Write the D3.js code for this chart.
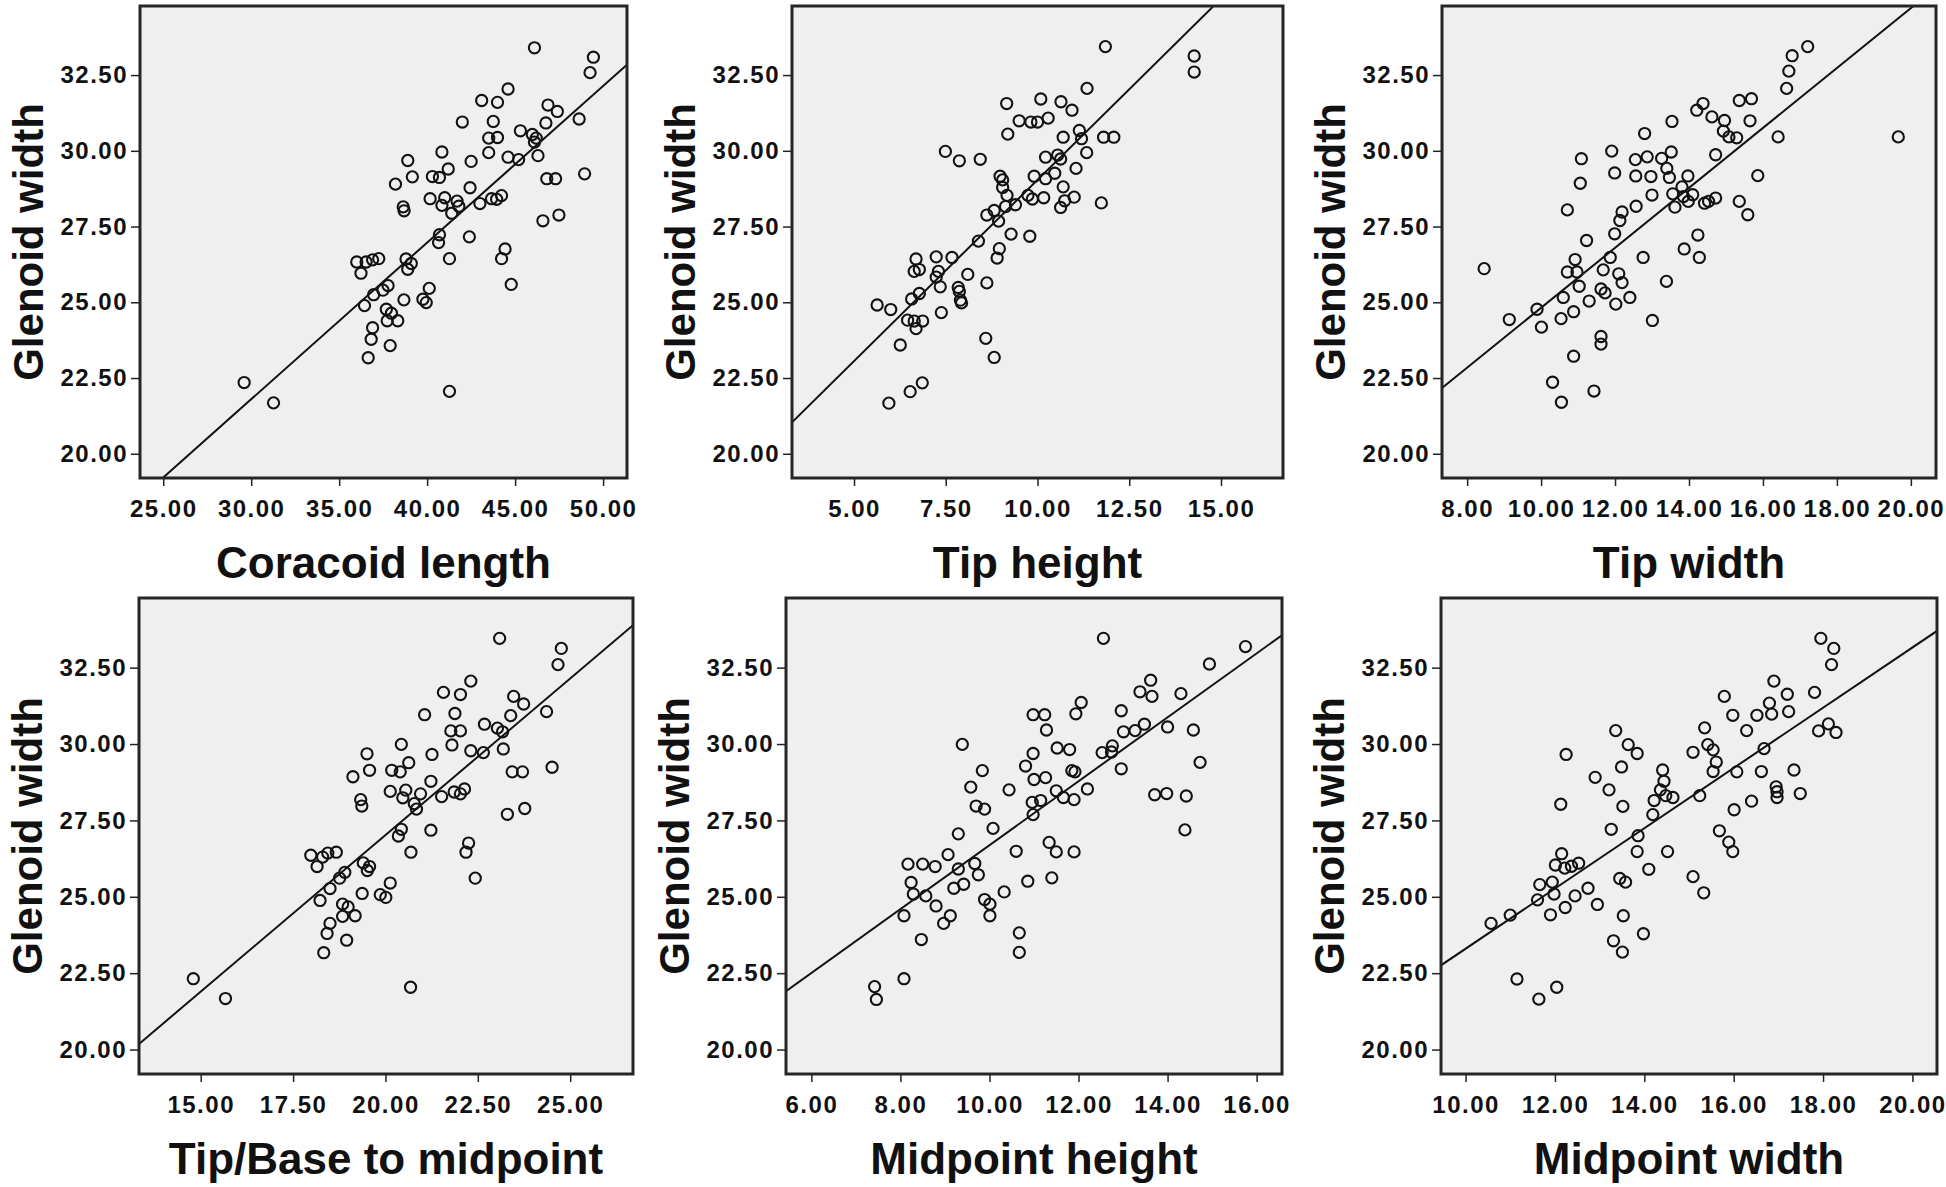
<!DOCTYPE html>
<html><head><meta charset="utf-8">
<script src="https://cdn.jsdelivr.net/npm/d3@7"></script>
<style>
html,body{margin:0;padding:0;background:#fff;}
svg text{font-family:"Liberation Sans",Arial,sans-serif;font-weight:bold;fill:#111;}
</style></head><body>
<svg id="chart" width="1946" height="1187"></svg>
<script>
// ---------- data ----------
const yTitle = "Glenoid width";
const yTickValues = [20, 22.5, 25, 27.5, 30, 32.5];
const yDomain = [19.2, 34.78];
const xTitles = ["Coracoid length", "Tip height", "Tip width", "Tip/Base to midpoint", "Midpoint height", "Midpoint width"];
const xDomains = [[23.68, 51.36], [3.31, 16.69], [7.32, 20.68], [13.33, 26.70], [5.43, 16.57], [9.45, 20.55]];
const xTickValues = [
  [25, 30, 35, 40, 45, 50],
  [5, 7.5, 10, 12.5, 15],
  [8, 10, 12, 14, 16, 18, 20],
  [15, 17.5, 20, 22.5, 25],
  [6, 8, 10, 12, 14, 16],
  [10, 12, 14, 16, 18, 20]
];
const fitIntercepts = [6.29, 17.08, 14.93, 6.52, 16.23, 13.44];
const fitSlopes = [0.517, 1.196, 0.989, 1.025, 1.046, 0.986];

const coracoidLength = [[46.1,33.4],[49.45,33.09],[49.26,32.58],[44.6,32.04],[43.1,31.66],[44.0,31.6],[46.87,31.51],[47.4,31.3],[48.64,31.05],[42.0,30.95],[43.76,30.97],[46.75,30.92],[45.3,30.66],[43.5,30.42],[44.0,30.44],[45.98,30.54],[46.2,30.42],[46.1,30.29],[40.84,29.96],[43.5,29.94],[38.9,29.68],[44.6,29.79],[45.2,29.71],[46.3,29.84],[42.5,29.65],[41.2,29.4],[39.16,29.14],[40.3,29.15],[40.7,29.12],[38.2,28.9],[48.95,29.24],[46.8,29.08],[47.3,29.08],[42.44,28.78],[40.17,28.42],[41.0,28.45],[40.84,28.2],[41.7,28.34],[41.8,28.17],[43.0,28.26],[43.66,28.42],[44.23,28.52],[43.95,28.4],[38.64,28.15],[38.69,28.02],[41.4,27.94],[46.58,27.69],[47.49,27.88],[40.7,27.23],[40.65,26.97],[42.4,27.16],[41.27,26.44],[44.43,26.76],[44.23,26.44],[44.78,25.59],[36.9,26.4],[37.25,26.44],[36.0,26.33],[36.53,26.33],[36.24,25.96],[38.8,26.43],[39.1,26.28],[38.9,26.09],[37.78,25.55],[37.49,25.4],[36.96,25.25],[38.68,25.08],[40.12,25.46],[39.76,25.1],[39.95,24.99],[36.44,24.89],[37.68,24.77],[37.97,24.64],[38.33,24.39],[37.73,24.39],[36.9,24.16],[36.82,23.78],[37.9,23.57],[36.65,23.17],[29.6,22.35],[31.27,21.68],[41.27,22.06]];

const tipHeight = [[11.85,33.44],[14.27,33.13],[14.27,32.6],[11.35,32.06],[9.16,31.56],[10.09,31.71],[10.64,31.62],[10.94,31.34],[9.5,30.99],[9.82,30.95],[10.0,30.95],[10.29,31.08],[9.19,30.55],[10.7,30.45],[11.14,30.67],[11.2,30.4],[11.8,30.45],[12.08,30.45],[7.49,29.98],[7.87,29.67],[8.44,29.72],[10.22,29.79],[10.55,29.86],[10.63,29.73],[11.34,29.94],[11.05,29.42],[8.98,29.16],[9.05,29.04],[9.91,29.16],[10.22,29.08],[10.47,29.26],[9.05,28.79],[10.7,28.81],[9.74,28.53],[9.86,28.41],[10.17,28.45],[11.0,28.47],[9.17,28.53],[9.4,28.22],[9.13,28.16],[10.74,28.35],[10.63,28.13],[11.74,28.28],[8.62,27.88],[8.82,28.03],[8.94,27.68],[9.28,27.25],[9.79,27.18],[8.39,27.02],[8.96,26.77],[8.9,26.46],[6.69,26.43],[7.24,26.5],[7.67,26.48],[6.64,26.02],[6.78,26.08],[7.3,26.02],[7.24,25.83],[8.1,25.92],[8.62,25.64],[7.35,25.51],[7.84,25.49],[7.87,25.36],[6.78,25.29],[6.57,25.11],[7.9,25.07],[7.93,24.98],[5.63,24.91],[6.0,24.76],[7.38,24.66],[6.46,24.41],[6.64,24.38],[6.87,24.38],[6.69,24.13],[6.26,23.59],[8.59,23.81],[8.82,23.18],[6.86,22.34],[6.53,22.05],[5.95,21.67]];

const tipWidth = [[17.21,33.44],[16.79,33.14],[16.7,32.63],[16.64,32.06],[14.38,31.56],[14.21,31.34],[15.36,31.66],[15.69,31.72],[13.54,30.97],[14.62,31.12],[14.96,31.0],[15.65,30.99],[14.93,30.65],[15.08,30.46],[15.29,30.43],[12.8,30.57],[16.41,30.46],[19.66,30.46],[11.91,29.99],[11.09,29.74],[12.55,29.71],[12.87,29.8],[13.26,29.75],[13.52,29.96],[14.72,29.87],[13.4,29.42],[11.99,29.27],[12.56,29.17],[12.97,29.15],[13.47,29.12],[13.97,29.17],[15.86,29.18],[11.06,28.93],[13.81,28.81],[13.0,28.54],[13.56,28.58],[13.85,28.49],[14.1,28.55],[13.98,28.33],[14.42,28.27],[14.53,28.33],[14.72,28.44],[13.62,28.14],[15.36,28.33],[12.57,28.17],[10.71,28.05],[12.19,27.98],[12.13,27.7],[15.59,27.89],[11.23,27.04],[11.99,27.26],[14.24,27.22],[12.76,26.48],[13.87,26.76],[14.28,26.48],[10.92,26.41],[11.87,26.48],[8.46,26.11],[10.71,26.0],[10.97,26.0],[11.68,26.07],[12.1,25.94],[12.19,25.65],[13.39,25.69],[11.03,25.53],[11.62,25.44],[11.73,25.31],[10.6,25.16],[12.4,25.16],[11.3,25.04],[12.02,24.94],[9.89,24.77],[10.88,24.69],[9.14,24.43],[10.54,24.46],[13.01,24.4],[10.01,24.18],[11.62,23.87],[11.62,23.62],[10.88,23.22],[10.31,22.36],[11.43,22.07],[10.55,21.7]];

const tipBaseToMidpoint = [[23.09,33.46],[24.76,33.13],[24.67,32.6],[22.31,32.06],[21.57,31.69],[22.03,31.62],[23.47,31.56],[23.74,31.31],[24.36,31.06],[21.06,30.96],[21.88,31.0],[23.39,30.93],[22.68,30.65],[21.77,30.43],[22.03,30.43],[23.03,30.52],[23.17,30.4],[20.43,29.99],[21.8,29.97],[22.31,29.78],[22.65,29.72],[23.19,29.84],[19.5,29.68],[21.26,29.66],[20.63,29.39],[19.57,29.14],[20.17,29.14],[20.4,29.09],[19.12,28.93],[23.43,29.09],[23.71,29.09],[24.51,29.24],[21.23,28.78],[20.13,28.45],[20.55,28.49],[20.47,28.24],[20.95,28.37],[21.52,28.28],[21.86,28.43],[22.14,28.53],[22.03,28.37],[19.33,28.18],[19.36,27.97],[20.78,28.05],[20.84,27.87],[23.3,27.7],[23.77,27.89],[20.43,27.21],[20.35,26.99],[21.23,27.18],[20.69,26.46],[22.25,26.76],[22.18,26.46],[22.43,25.61],[18.44,26.43],[18.67,26.46],[17.98,26.36],[18.3,26.3],[18.15,25.99],[19.4,26.11],[19.57,25.99],[19.51,25.86],[18.9,25.8],[18.76,25.61],[18.5,25.27],[20.13,25.45],[19.37,25.11],[19.86,25.07],[20.01,24.98],[18.23,24.88],[18.84,24.76],[18.99,24.67],[19.18,24.38],[18.84,24.36],[18.5,24.13],[18.42,23.8],[18.95,23.58],[18.33,23.17],[14.8,22.32],[15.67,21.67],[20.68,22.04]];

const midpointHeight = [[12.56,33.46],[15.75,33.19],[14.94,32.62],[13.62,32.09],[13.38,31.71],[13.65,31.56],[14.3,31.65],[12.06,31.36],[10.98,30.96],[11.24,30.96],[11.94,30.99],[12.96,31.09],[11.28,30.46],[13.01,30.4],[13.27,30.44],[13.48,30.65],[14.0,30.56],[14.58,30.46],[9.39,29.99],[10.98,29.69],[11.52,29.87],[11.8,29.82],[12.53,29.72],[12.76,29.94],[12.74,29.74],[10.81,29.28],[9.84,29.13],[11.85,29.13],[11.92,29.09],[12.96,29.19],[14.73,29.4],[11.0,28.84],[11.26,28.9],[9.58,28.59],[10.44,28.5],[11.5,28.47],[11.66,28.25],[12.2,28.53],[10.96,28.09],[11.15,28.15],[11.9,28.18],[13.71,28.34],[13.98,28.38],[14.42,28.3],[9.7,27.97],[9.89,27.87],[10.98,27.69],[10.08,27.24],[9.3,27.06],[14.39,27.19],[10.6,26.49],[11.34,26.78],[11.5,26.47],[11.9,26.47],[9.07,26.38],[8.17,26.07],[8.5,26.07],[8.78,25.99],[9.3,25.91],[9.67,26.09],[9.75,25.72],[11.4,25.62],[10.86,25.51],[8.24,25.47],[9.42,25.41],[9.2,25.28],[8.29,25.09],[8.57,25.03],[10.33,25.16],[9.89,24.91],[10.01,24.76],[8.8,24.7],[9.12,24.38],[8.08,24.38],[10.01,24.38],[8.97,24.13],[8.47,23.6],[10.67,23.82],[10.67,23.18],[8.08,22.32],[7.42,22.06],[7.46,21.64]];

const midpointWidth = [[17.95,33.46],[18.24,33.13],[18.19,32.6],[16.9,32.06],[15.79,31.56],[17.2,31.63],[17.81,31.69],[16.8,31.34],[15.98,30.94],[16.52,30.94],[16.85,30.98],[17.23,31.06],[15.35,30.53],[16.29,30.44],[13.36,30.44],[17.9,30.43],[18.12,30.66],[18.29,30.38],[13.64,29.98],[13.84,29.69],[12.25,29.66],[15.09,29.73],[15.42,29.98],[15.54,29.81],[16.68,29.85],[15.61,29.41],[13.49,29.25],[14.41,29.15],[15.54,29.1],[16.07,29.09],[16.62,29.1],[17.35,29.15],[12.9,28.91],[14.44,28.78],[13.21,28.5],[14.36,28.5],[14.48,28.31],[14.64,28.25],[14.22,28.15],[15.24,28.31],[16.95,28.6],[16.97,28.44],[16.97,28.25],[17.49,28.38],[16.4,28.13],[12.13,28.03],[13.52,27.96],[16.01,27.85],[14.19,27.69],[13.26,27.21],[13.86,27.0],[15.68,27.16],[15.89,26.79],[15.98,26.48],[13.84,26.48],[14.52,26.48],[12.15,26.41],[12.01,26.04],[12.22,25.94],[12.37,26.0],[12.53,26.1],[14.1,25.9],[13.45,25.6],[13.58,25.48],[11.66,25.4],[11.94,25.48],[15.09,25.66],[15.33,25.13],[12.74,25.28],[11.98,25.09],[12.45,25.03],[11.61,24.9],[12.95,24.75],[12.23,24.65],[11.0,24.4],[11.9,24.41],[13.53,24.38],[10.57,24.13],[13.98,23.79],[13.31,23.56],[13.51,23.19],[11.15,22.31],[12.04,22.04],[11.64,21.65]];

const panelPoints = [coracoidLength, tipHeight, tipWidth, tipBaseToMidpoint, midpointHeight, midpointWidth];

// ---------- layout ----------
const boxes = [
  {x0: 140, x1: 627, y0: 6, y1: 478},
  {x0: 792, x1: 1283, y0: 6, y1: 478},
  {x0: 1442, x1: 1936, y0: 6, y1: 478},
  {x0: 139, x1: 633, y0: 598, y1: 1074},
  {x0: 786, x1: 1282, y0: 598, y1: 1074},
  {x0: 1441, x1: 1937, y0: 598, y1: 1074}
];

const svg = d3.select("#chart");
svg.append("rect").attr("width", 1946).attr("height", 1187).attr("fill", "#fff");
const fmt = d3.format(".2f");

boxes.forEach((b, i) => {
  const x = d3.scaleLinear().domain(xDomains[i]).range([b.x0, b.x1]);
  const y = d3.scaleLinear().domain(yDomain).range([b.y1, b.y0]);
  const g = svg.append("g");

  g.append("rect").attr("x", b.x0).attr("y", b.y0)
    .attr("width", b.x1 - b.x0).attr("height", b.y1 - b.y0)
    .attr("fill", "#efefef");

  const clipId = "clip" + i;
  svg.append("clipPath").attr("id", clipId).append("rect")
    .attr("x", b.x0).attr("y", b.y0).attr("width", b.x1 - b.x0).attr("height", b.y1 - b.y0);

  const inner = g.append("g").attr("clip-path", `url(#${clipId})`);

  // regression line
  const xd = xDomains[i];
  inner.append("line")
    .attr("x1", x(xd[0])).attr("y1", y(fitIntercepts[i] + fitSlopes[i] * xd[0]))
    .attr("x2", x(xd[1])).attr("y2", y(fitIntercepts[i] + fitSlopes[i] * xd[1]))
    .attr("stroke", "#111").attr("stroke-width", 2);

  // points
  inner.selectAll("circle").data(panelPoints[i]).enter().append("circle")
    .attr("cx", d => x(d[0])).attr("cy", d => y(d[1])).attr("r", 5.6)
    .attr("fill", "none").attr("stroke", "#121212").attr("stroke-width", 2.1);

  // frame
  g.append("rect").attr("x", b.x0).attr("y", b.y0)
    .attr("width", b.x1 - b.x0).attr("height", b.y1 - b.y0)
    .attr("fill", "none").attr("stroke", "#262626").attr("stroke-width", 3);

  // y axis
  const ya = g.append("g").attr("transform", `translate(${b.x0 - 1},0)`)
    .call(d3.axisLeft(y).tickValues(yTickValues).tickFormat(fmt).tickSize(8).tickPadding(3));
  ya.select(".domain").remove();
  ya.selectAll(".tick line").attr("stroke", "#222").attr("stroke-width", 1.5);
  ya.selectAll(".tick text").attr("font-size", 24).attr("letter-spacing", "1.5px").attr("fill", "#111")
    .style("font-family", '"Liberation Sans", Arial, sans-serif').style("font-weight", "bold");

  // x axis
  const xa = g.append("g").attr("transform", `translate(0,${b.y1 + 1})`)
    .call(d3.axisBottom(x).tickValues(xTickValues[i]).tickFormat(fmt).tickSize(7).tickPadding(14));
  xa.select(".domain").remove();
  xa.selectAll(".tick line").attr("stroke", "#222").attr("stroke-width", 1.5);
  xa.selectAll(".tick text").attr("font-size", 24).attr("letter-spacing", "1.5px").attr("fill", "#111")
    .style("font-family", '"Liberation Sans", Arial, sans-serif').style("font-weight", "bold");

  // titles
  g.append("text").attr("x", (b.x0 + b.x1) / 2).attr("y", b.y1 + 100)
    .attr("text-anchor", "middle").attr("font-size", 44)
    .text(xTitles[i]);
  const cy = (b.y0 + b.y1) / 2;
  g.append("text").attr("transform", `translate(${b.x0 - 97},${cy}) rotate(-90)`)
    .attr("text-anchor", "middle").attr("font-size", 42)
    .text(yTitle);
});
</script>
</body></html>
